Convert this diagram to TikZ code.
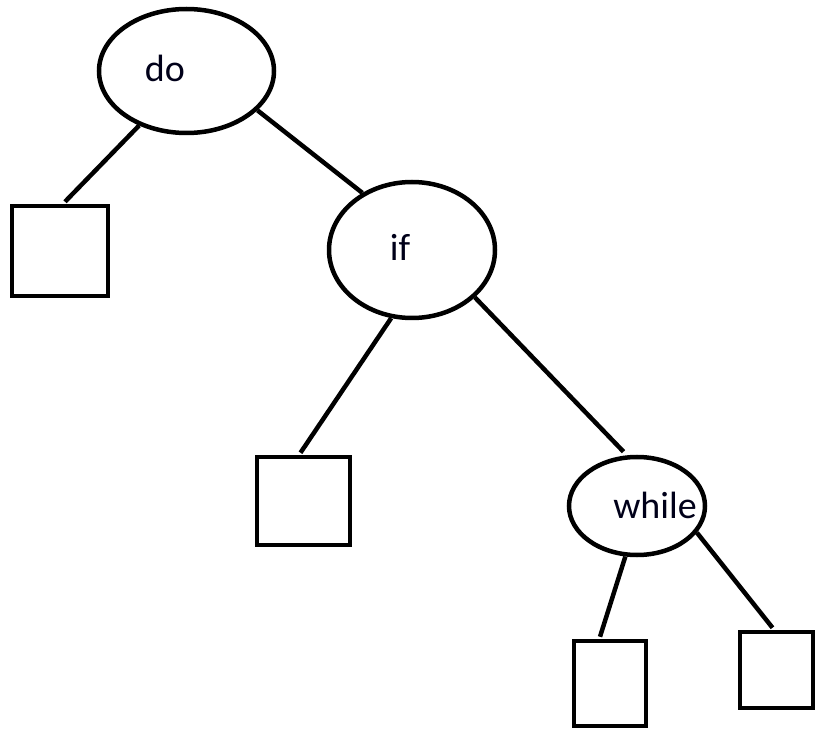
\documentclass[tikz,border=0pt]{standalone}
\usepackage{fontspec}
\setmainfont{Carlito}
\usetikzlibrary{shapes.geometric,calc}
\begin{document}
\begin{tikzpicture}[x=1pt,y=-1pt,
  oval/.style={draw=black,ellipse,inner sep=0pt,line width=4.5pt},
  leaf/.style={draw=black,rectangle,inner sep=0pt,line width=4.5pt},
  lbl/.style={inner sep=0pt,font=\fontsize{38}{44}\selectfont,text=black!90!blue},
  edge/.style={draw=black,line width=4.5pt}]
\useasboundingbox (0,0) rectangle (815,730);
% inner nodes
\node[oval,minimum width=175pt,minimum height=124pt] (do) at (186.5,71) {};
\node[oval,minimum width=166pt,minimum height=136pt] (if) at (412,250) {};
\node[oval,minimum width=136pt,minimum height=98pt] (wh) at (637,506) {};
\node[lbl] (doT) at (165,68) {do};
\node[lbl] (ifT) at (400,247) {if};
\node[lbl] (whT) at (655,505) {while};
% leaves
\node[leaf,minimum width=96pt,minimum height=90pt] (s1) at (60,251) {};
\node[leaf,minimum width=93pt,minimum height=88pt] (s2) at (303.5,501) {};
\node[leaf,minimum width=72pt,minimum height=85pt] (s3) at (610,683.5) {};
\node[leaf,minimum width=73pt,minimum height=76pt] (s4) at (776.5,670) {};
% connectors
\draw[edge] (do.229) -- ($(s1.north)+(5,-2)$);
\draw[edge] (do.331) -- (if.131);
\draw[edge] (if.253) -- ($(s2.north)+(-3,-2)$);
\draw[edge] (if.323) -- ($(wh.105)+(0,-4)$);
\draw[edge] (wh.257) -- ($(s3.north)+(-10,-2)$);
\draw[edge] (wh.336) -- ($(s4.north)+(-4,-2)$);
\end{tikzpicture}
\end{document}
